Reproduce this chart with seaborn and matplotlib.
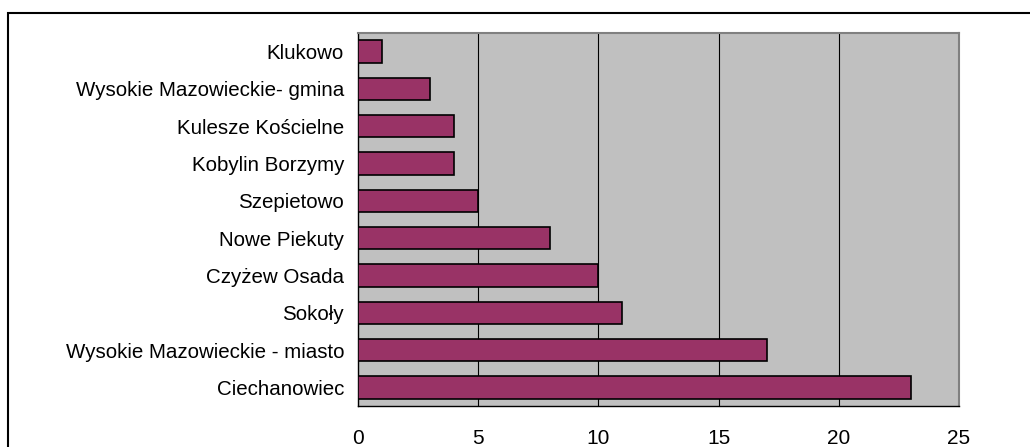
import matplotlib.pyplot as plt
import seaborn as sns
import pandas as pd
from matplotlib.patches import Rectangle

# dane
gminy = ['Klukowo', 'Wysokie Mazowieckie- gmina', 'Kulesze Kościelne',
         'Kobylin Borzymy', 'Szepietowo', 'Nowe Piekuty', 'Czyżew Osada',
         'Sokoły', 'Wysokie Mazowieckie - miasto', 'Ciechanowiec']
liczba = [1, 3, 4, 4, 5, 8, 10, 11, 17, 23]
x_ticks = [0, 5, 10, 15, 20, 25]

df = pd.DataFrame({'gmina': gminy, 'liczba': liczba})

sns.set_style('white')
plt.rcParams['font.family'] = ['Liberation Sans', 'DejaVu Sans']

fig = plt.figure(figsize=(10.3, 4.47), dpi=100)
ax = fig.add_axes([358 / 1030, 1 - 406 / 447, 601 / 1030, 373 / 447])

sns.barplot(data=df, x='liczba', y='gmina', order=gminy, color='#993366',
            saturation=1, width=0.6, edgecolor='black', linewidth=1.2,
            ax=ax, zorder=3)

ax.set_facecolor('#C0C0C0')
ax.set_xlim(0, 25)
ax.set_ylim(len(gminy) - 0.5, -0.5)
ax.set_xticks(x_ticks)
ax.set_xticklabels([str(t) for t in x_ticks])
ax.set_xlabel('')
ax.set_ylabel('')

# siatka pionowa
for t in x_ticks[1:-1]:
    ax.axvline(t, color='black', linewidth=0.8, zorder=1)

# ramka obszaru wykresu
for side in ['top', 'right']:
    ax.spines[side].set_color('#808080')
    ax.spines[side].set_linewidth(1.5)
for side in ['left', 'bottom']:
    ax.spines[side].set_color('black')
    ax.spines[side].set_linewidth(1.0)

ax.tick_params(axis='x', direction='out', length=4.5, width=0.8,
               color='black', pad=12, labelsize=15, labelcolor='black')
ax.tick_params(axis='y', which='major', length=0, pad=10, labelsize=14.8,
               labelcolor='black')
ax.set_yticks([i + 0.5 for i in range(-1, len(gminy))], minor=True)
ax.tick_params(axis='y', which='minor', direction='out', length=4,
               width=0.8, color='black')

# zewnętrzna ramka
fig.patches.append(Rectangle((8 / 1030, -0.05), 1.1, 1 - 13 / 447 + 0.05,
                             transform=fig.transFigure, fill=False,
                             edgecolor='black', linewidth=1.5))

fig.savefig('out.png', dpi=100)
